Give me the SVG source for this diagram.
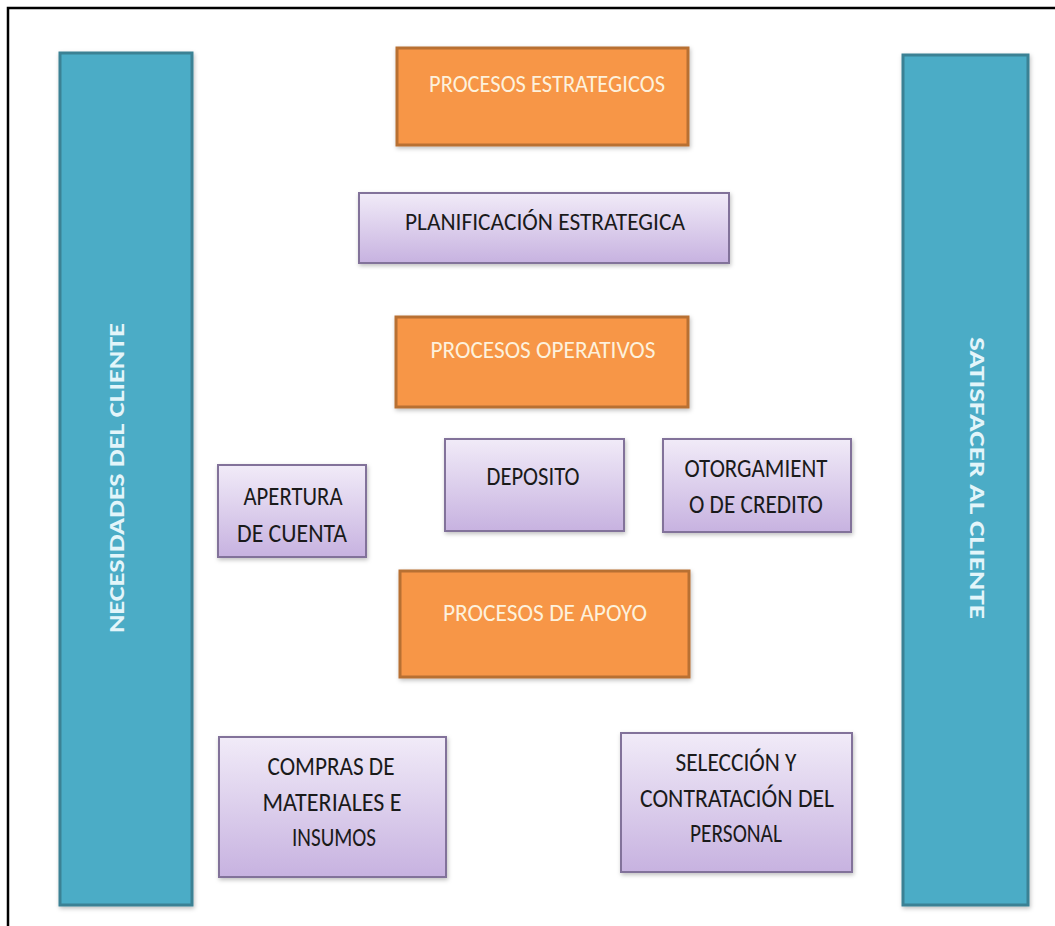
<svg xmlns="http://www.w3.org/2000/svg" width="1055" height="926" viewBox="0 0 1055 926">
<defs>
<linearGradient id="lav" x1="0" y1="0" x2="0" y2="1">
<stop offset="0" stop-color="#f1ebf8"/>
<stop offset="1" stop-color="#c7b2e0"/>
</linearGradient>
<filter id="sh" x="-10%" y="-10%" width="120%" height="120%">
<feDropShadow dx="1" dy="2" stdDeviation="2" flood-color="#000" flood-opacity="0.25"/>
</filter>
</defs>
<style>
.bar{fill:#4bacc6;stroke:#3b8194;stroke-width:3;filter:url(#sh)}
.org{fill:#f79646;stroke:#b86f33;stroke-width:3;filter:url(#sh)}
.lav{fill:url(#lav);stroke:#82729a;stroke-width:2;filter:url(#sh)}
.t{font-family:Carlito,"Liberation Sans",Arial,sans-serif;text-anchor:middle}
.ot{fill:#fdf1dc;font-size:24px}
.dt{fill:#1a1a1a;font-size:26px}
.vt{fill:#e3f5fa;font-size:22px;font-weight:bold}
</style>
<rect width="1055" height="926" fill="#fff"/>
<path d="M8 926 V8 H1055" fill="none" stroke="#000" stroke-width="2.5"/>
<g id="necesidades">
<rect class="bar" x="60" y="53" width="132" height="852"/>
<text class="t vt" transform="translate(124 478) rotate(-90)" textLength="310" lengthAdjust="spacingAndGlyphs">NECESIDADES DEL CLIENTE</text>
</g>
<g id="satisfacer">
<rect class="bar" x="903" y="55" width="125" height="850"/>
<text class="t vt" transform="translate(970 478) rotate(90)" textLength="282" lengthAdjust="spacingAndGlyphs">SATISFACER AL CLIENTE</text>
</g>
<g id="estrategicos">
<rect class="org" x="397" y="48" width="291" height="97"/>
<text class="t ot" x="547" y="92" textLength="236" lengthAdjust="spacingAndGlyphs">PROCESOS ESTRATEGICOS</text>
</g>
<g id="planificacion">
<rect class="lav" x="359" y="193" width="370" height="70"/>
<text class="t dt" x="545" y="230" textLength="280" lengthAdjust="spacingAndGlyphs" style="font-size:25px">PLANIFICACIÓN ESTRATEGICA</text>
</g>
<g id="operativos">
<rect class="org" x="396" y="317" width="292" height="90"/>
<text class="t ot" x="543" y="358" textLength="225" lengthAdjust="spacingAndGlyphs">PROCESOS OPERATIVOS</text>
</g>
<g id="apertura">
<rect class="lav" x="218" y="465" width="148" height="92"/>
<text class="t dt" x="293" y="505" textLength="99" lengthAdjust="spacingAndGlyphs">APERTURA</text>
<text class="t dt" x="292" y="542" textLength="110" lengthAdjust="spacingAndGlyphs">DE CUENTA</text>
</g>
<g id="deposito">
<rect class="lav" x="445" y="439" width="179" height="92"/>
<text class="t dt" x="533" y="485" textLength="93" lengthAdjust="spacingAndGlyphs">DEPOSITO</text>
</g>
<g id="otorgamiento">
<rect class="lav" x="663" y="439" width="188" height="93"/>
<text class="t dt" x="756" y="477" textLength="143" lengthAdjust="spacingAndGlyphs">OTORGAMIENT</text>
<text class="t dt" x="756" y="513" textLength="134" lengthAdjust="spacingAndGlyphs">O DE CREDITO</text>
</g>
<g id="apoyo">
<rect class="org" x="400" y="571" width="289" height="106"/>
<text class="t ot" x="545" y="621" textLength="204" lengthAdjust="spacingAndGlyphs">PROCESOS DE APOYO</text>
</g>
<g id="compras">
<rect class="lav" x="219" y="737" width="227" height="140"/>
<text class="t dt" x="331" y="775" textLength="127" lengthAdjust="spacingAndGlyphs">COMPRAS DE</text>
<text class="t dt" x="332" y="811" textLength="139" lengthAdjust="spacingAndGlyphs">MATERIALES E</text>
<text class="t dt" x="334" y="846" textLength="84" lengthAdjust="spacingAndGlyphs">INSUMOS</text>
</g>
<g id="seleccion">
<rect class="lav" x="621" y="733" width="231" height="139"/>
<text class="t dt" x="736" y="771" textLength="121" lengthAdjust="spacingAndGlyphs">SELECCIÓN Y</text>
<text class="t dt" x="737" y="807" textLength="194" lengthAdjust="spacingAndGlyphs">CONTRATACIÓN DEL</text>
<text class="t dt" x="736" y="842" textLength="92" lengthAdjust="spacingAndGlyphs">PERSONAL</text>
</g>
<g id="connectors"></g>
</svg>
